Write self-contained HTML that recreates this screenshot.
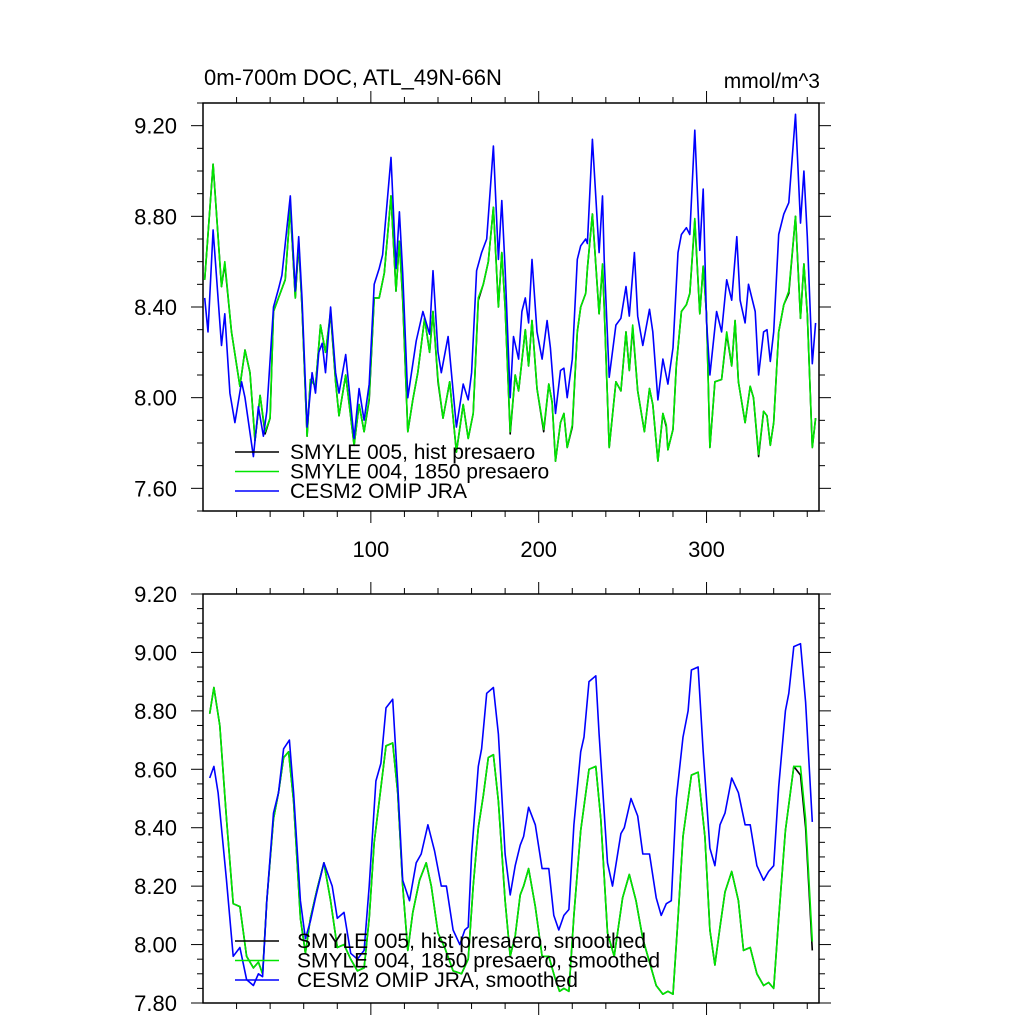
<!DOCTYPE html>
<html><head><meta charset="utf-8">
<style>
html,body{margin:0;padding:0;background:#fff;}
svg{display:block;font-family:"Liberation Sans",sans-serif;}
</style></head>
<body>
<svg id="chart" width="1024" height="1024" viewBox="0 0 1024 1024" xmlns="http://www.w3.org/2000/svg">
<text x="204" y="85" font-size="22">0m-700m DOC, ATL_49N-66N</text>
<text x="820" y="88" font-size="21" text-anchor="end">mmol/m^3</text>
<g id="top"></g>
<g id="bot"></g>
</svg>
<script>
// ---- Top panel data (raw) ----
const topGreenDays=[1,6,11,13,17,22,25,28,31,34,37,40,42,45,49,52,55,57,59,62,64,67,70,73,76,79,81,85,90,93,96,99,102,105,108,112,115,117,119,122,125,128,132,135,137,140,143,147,151,155,158,161,164,167,170,173,176,178,180,183,186,188,192,194,196,199,203,206,208,210,213,215,217,220,223,225,228,229,232,236,238,239,242,246,249,252,254,256,259,263,266,268,271,274,276,277,280,282,285,288,290,293,296,298,300,302,305,309,312,315,317,319,323,326,328,331,334,336,338,340,343,346,349,353,356,358,360,363,365];
const topGreenVals=[8.52,9.03,8.49,8.60,8.29,8.05,8.21,8.11,7.81,8.01,7.85,7.91,8.38,8.44,8.52,8.84,8.44,8.69,8.40,7.83,8.08,8.05,8.32,8.20,8.38,8.07,7.92,8.10,7.79,7.97,7.85,8.00,8.44,8.44,8.55,8.89,8.47,8.69,8.44,7.85,7.99,8.11,8.35,8.20,8.38,8.08,7.91,8.07,7.76,7.97,7.82,7.93,8.44,8.50,8.60,8.84,8.40,8.64,8.40,7.85,8.10,8.03,8.30,8.14,8.34,8.04,7.86,8.06,7.98,7.72,7.89,7.93,7.78,7.88,8.29,8.40,8.46,8.57,8.81,8.37,8.59,8.40,7.78,8.07,8.03,8.29,8.12,8.32,8.03,7.85,8.04,7.97,7.72,7.93,7.88,7.77,7.86,8.14,8.38,8.41,8.46,8.79,8.37,8.58,8.37,7.78,8.07,8.08,8.29,8.14,8.34,8.07,7.89,8.05,8.00,7.75,7.94,7.92,7.79,7.89,8.29,8.41,8.47,8.80,8.35,8.59,8.37,7.78,7.91];
const topBlackVals=topGreenVals.map((v,i)=>v-(i%7===3?0.01:0));
const topBlueDays=[1,3,6,11,13,16,19,23,25,30,33,36,38,42,45,47,52,55,57,59,62,65,67,69,71,73,76,79,81,85,90,93,96,99,102,105,107,112,115,117,119,122,127,131,135,137,140,142,146,151,155,158,160,163,166,169,173,176,178,180,183,185,188,190,192,194,196,199,202,205,207,210,213,215,217,220,223,225,228,229,232,236,238,239,242,246,249,252,254,257,259,262,266,268,271,274,277,280,283,285,288,290,293,296,298,300,302,306,309,312,315,318,320,323,325,329,331,334,336,338,340,343,346,349,353,356,358,360,363,365];
const topBlueVals=[8.44,8.29,8.74,8.23,8.37,8.02,7.89,8.07,8.00,7.74,7.96,7.83,7.94,8.40,8.48,8.54,8.89,8.47,8.71,8.44,7.87,8.11,8.02,8.20,8.24,8.11,8.40,8.11,8.02,8.19,7.82,8.04,7.90,8.06,8.50,8.57,8.63,9.06,8.57,8.82,8.55,8.00,8.25,8.38,8.28,8.56,8.20,8.11,8.27,7.87,8.06,7.99,8.11,8.56,8.64,8.70,9.11,8.61,8.87,8.57,8.00,8.27,8.17,8.38,8.44,8.33,8.61,8.29,8.17,8.34,8.22,7.93,8.12,8.13,8.00,8.17,8.61,8.67,8.70,8.68,9.14,8.64,8.89,8.61,8.09,8.32,8.35,8.49,8.36,8.64,8.36,8.23,8.39,8.29,7.99,8.17,8.06,8.22,8.64,8.72,8.75,8.72,9.18,8.65,8.92,8.34,8.10,8.38,8.29,8.52,8.43,8.71,8.43,8.33,8.50,8.38,8.10,8.29,8.30,8.16,8.29,8.72,8.81,8.86,9.25,8.77,9.00,8.71,8.15,8.33];
// ---- Bottom panel data (smoothed) ----
const botGreenDays=[4,6.5,10,14,18,22,26,30,33,35.5,38,42,45,48,51,54,58,61,64,68,72,76,80,84,88,92,96,99,102,105,109,113,116,119,122,125,129,133,136,140,144,149,154,158,161,164,167,170,173,176,180,183,186,189,191,194,198,202,206,209.5,212.4,215,218,221,225,230,234,237,241,245,250,254,258,262,266,270,274,277,280,283,286,291,295,299,302,305,308,311,315,319,322,326,330,334,337,340,343,347,352,356,359,363];
const botGreenVals=[8.79,8.88,8.75,8.43,8.14,8.13,7.96,7.92,7.94,7.90,8.15,8.43,8.52,8.64,8.66,8.49,8.09,7.97,8.09,8.19,8.28,8.15,7.99,8.00,7.95,7.91,7.92,8.09,8.35,8.49,8.68,8.69,8.52,8.20,7.98,8.11,8.22,8.28,8.20,8.04,7.99,7.91,7.90,7.95,8.20,8.40,8.51,8.64,8.65,8.49,8.15,7.96,8.03,8.17,8.20,8.26,8.13,7.96,7.96,7.89,7.84,7.85,7.84,8.10,8.39,8.60,8.61,8.43,8.04,7.96,8.16,8.24,8.15,8.02,7.94,7.86,7.83,7.84,7.83,8.09,8.37,8.58,8.59,8.37,8.05,7.93,8.06,8.18,8.25,8.15,7.98,7.99,7.90,7.86,7.87,7.85,8.09,8.39,8.61,8.61,8.43,8.01];
const botBlackVals=botGreenVals.map((v,i)=>i>=99?v-0.03:v);
const botBlueDays=[4,6.5,9,14,18,22,26,30,33,35.5,38,42,45,48,51.5,54,58,61,64,67,72,77,80,84,88,92,96,99,103,106,109,113,116,119,123,127,130,134,138,142,145,149,153,156,158,160,164,166,169,173,176,180,183,186,189,191,194,198,202,206,209,212,215,218,221,225,227,230,234,236,241,244,249,251,255,259,262,266,270,273,276,279,282,286,289,291,295,298,302,305,308,311,315,319,323,326,330,334,337,340,343,347,349,352,356,359,363];
const botBlueVals=[8.57,8.61,8.52,8.22,7.96,7.99,7.88,7.86,7.90,7.89,8.15,8.45,8.52,8.67,8.70,8.52,8.15,8.02,8.08,8.16,8.28,8.20,8.09,8.11,7.97,7.95,7.98,8.20,8.56,8.62,8.81,8.84,8.55,8.22,8.15,8.28,8.31,8.41,8.32,8.20,8.20,8.05,8.00,8.05,8.06,8.31,8.61,8.67,8.86,8.88,8.72,8.31,8.17,8.27,8.34,8.37,8.47,8.41,8.26,8.26,8.10,8.05,8.10,8.12,8.41,8.66,8.71,8.90,8.92,8.72,8.28,8.20,8.38,8.40,8.50,8.44,8.31,8.31,8.16,8.10,8.14,8.15,8.50,8.71,8.80,8.94,8.95,8.66,8.33,8.27,8.41,8.45,8.57,8.52,8.41,8.41,8.27,8.22,8.25,8.27,8.54,8.80,8.86,9.02,9.03,8.83,8.42];
const topYTicks=["7.60","8.00","8.40","8.80","9.20"];
const botYTicks=["7.80","8.00","8.20","8.40","8.60","8.80","9.00","9.20"];
const xTickLabels=["100","200","300"];

const NS="http://www.w3.org/2000/svg";
function mk(parent,tag,attrs){const e=document.createElementNS(NS,tag);for(const k in attrs)e.setAttribute(k,attrs[k]);parent.appendChild(e);return e;}

function panel(g,cfg){
  const L=203,R=819,T=cfg.T,B=cfg.B;
  const xs=d=>L+(d-0)/(367-0)*(R-L);
  const ys=v=>B-(v-cfg.ymin)/(cfg.ymax-cfg.ymin)*(B-T);
  const box=mk(g,'rect',{x:L,y:T,width:R-L,height:B-T,fill:'none',stroke:'#000','stroke-width':1.5});
  
  
  for(let d=20;d<367;d+=20){
    const maj=d%100===0, len=maj?12:6;
    for(const [y0,dir] of [[T,-1],[B,1]]){
      const t=mk(g,'line',{x1:xs(d),x2:xs(d),y1:y0,y2:y0+dir*len,stroke:'#000','stroke-width':1});
      
      
    }
  }
  if(cfg.xlabels){
    xTickLabels.forEach(s=>{
      const t=mk(g,'text',{x:xs(+s),y:B+46,'font-size':22,'text-anchor':'middle'});t.textContent=s;
      
      
    });
  }
  const nMin=Math.round((cfg.ymax-cfg.ymin)/cfg.minor);
  for(let i=0;i<=nMin;i++){
    const v=cfg.ymin+i*cfg.minor;
    const maj=Math.abs(((v-cfg.majBase)/cfg.major)-Math.round((v-cfg.majBase)/cfg.major))<1e-6;
    const len=maj?12:6;
    for(const [x0,dir] of [[L,-1],[R,1]]){
      const t=mk(g,'line',{x1:x0,x2:x0+dir*len,y1:ys(v),y2:ys(v),stroke:'#000','stroke-width':1});
      
      
    }
  }
  cfg.ylabels.forEach(s=>{
    const t=mk(g,'text',{x:177,y:ys(+s)+8,'font-size':22,'text-anchor':'end'});t.textContent=s;
    
    
  });
  cfg.series.forEach(s=>{
    const pts=s.days.map((d,i)=>xs(d).toFixed(1)+','+ys(s.vals[i]).toFixed(1)).join(' ');
    const p=mk(g,'polyline',{points:pts,fill:'none',stroke:s.color,'stroke-width':1.6,'stroke-linejoin':'round'});
    
    
  });
  cfg.legend.forEach((lg,i)=>{
    const y=cfg.legY+i*19.5;
    const l=mk(g,'line',{x1:235,x2:279,y1:y,y2:y,stroke:lg.color,'stroke-width':1.6});
    
    
    const t=mk(g,'text',{x:cfg.legX,y:y+7,'font-size':21});t.textContent=lg.text;
    
    
  });
}
panel(document.getElementById('top'),{T:103,B:511,ymin:7.5,ymax:9.3,minor:0.1,major:0.4,majBase:7.6,ylabels:topYTicks,xlabels:true,
  series:[{name:'smyle005-hist-line',days:topGreenDays,vals:topBlackVals,color:'#000'},
          {name:'smyle004-1850-line',days:topGreenDays,vals:topGreenVals,color:'#00e600'},
          {name:'cesm2-omip-jra-line',days:topBlueDays,vals:topBlueVals,color:'#0000ff'}],
  legY:452,legX:290,
  legend:[{color:'#000',text:'SMYLE 005, hist presaero'},{color:'#00e600',text:'SMYLE 004, 1850 presaero'},{color:'#0000ff',text:'CESM2 OMIP JRA'}]});
panel(document.getElementById('bot'),{T:594,B:1003,ymin:7.8,ymax:9.2,minor:0.05,major:0.2,majBase:7.8,ylabels:botYTicks,xlabels:false,
  series:[{name:'smyle005-hist-smoothed-line',days:botGreenDays,vals:botBlackVals,color:'#000'},
          {name:'smyle004-1850-smoothed-line',days:botGreenDays,vals:botGreenVals,color:'#00e600'},
          {name:'cesm2-omip-jra-smoothed-line',days:botBlueDays,vals:botBlueVals,color:'#0000ff'}],
  legY:941,legX:297,
  legend:[{color:'#000',text:'SMYLE 005, hist presaero, smoothed'},{color:'#00e600',text:'SMYLE 004, 1850 presaero, smoothed'},{color:'#0000ff',text:'CESM2 OMIP JRA, smoothed'}]});
</script>
</body></html>
